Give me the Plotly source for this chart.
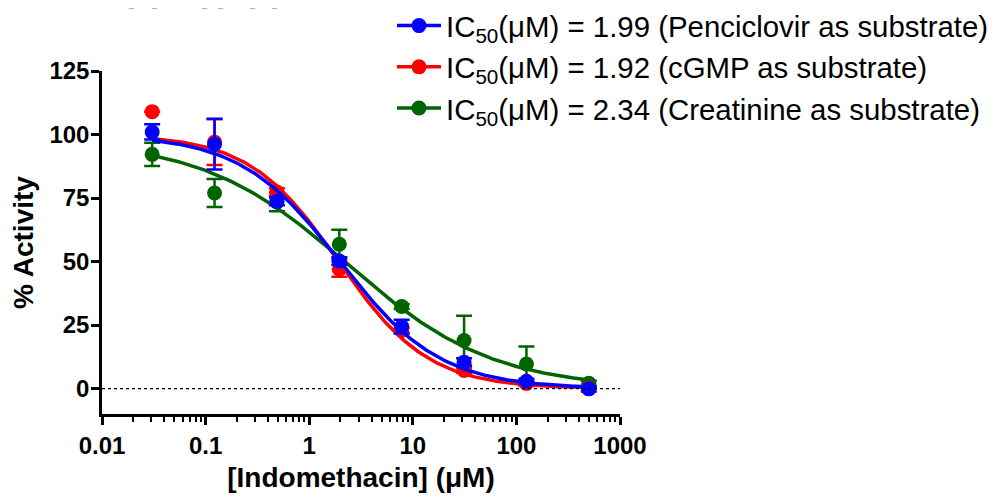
import numpy as np
import plotly.graph_objects as go

conc = [0.0305, 0.122, 0.488, 1.953, 7.8125, 31.25, 125, 500]

blue_y = [101.0, 96.2, 73.7, 50.2, 24.4, 10.4, 2.9, -0.1]
blue_err = [3.0, 10.0, 1.5, 1.5, 2.7, 1.5, 1.0, 1.0]
red_y = [109.0, 97.0, 77.4, 47.0, 22.9, 7.1, 2.0, 0.2]
red_err = [0.0, 9.0, 1.5, 3.0, 1.0, 1.0, 1.0, 0.5]
green_y = [92.2, 77.0, 73.5, 56.8, 32.3, 18.9, 9.7, 2.1]
green_err = [4.6, 5.5, 3.7, 5.7, 1.0, 9.8, 6.9, 1.0]

# fitted 4PL parameters: top, bottom, IC50, hill slope
blue_fit = [100.0, 0.0, 1.99, 0.9]
red_fit = [100.0, 0.0, 1.92, 1.0]
green_fit = [98.0, 0.0, 2.34, 0.62]

labels = ["IC<sub>50</sub>(\u03bcM) = 1.99 (Penciclovir as substrate)",
          "IC<sub>50</sub>(\u03bcM) = 1.92 (cGMP as substrate)",
          "IC<sub>50</sub>(\u03bcM) = 2.34 (Creatinine as substrate)"]
colors = ["#0000ff", "#ff0000", "#006400"]

# remnant marks of clipped text at the top-left (page pixel x positions)
dash_px = [127, 150, 200, 216, 248, 270]

xfit = np.logspace(np.log10(conc[0]), np.log10(conc[-1]), 200)

def fourpl(x, p):
    top, bot, ic, h = p
    return bot + (top - bot) / (1 + (x / ic) ** h)

OFF = 8  # page body margin
L, R, T, B = 102 - OFF, 376 + OFF, 71 - OFF, 83 + OFF
W, H = 996, 497
pw, ph = W - L - R, H - T - B

def px_x(px):
    return (px - OFF - L) / pw

def px_y(py):
    return (H - B - (py - OFF)) / ph

fig = go.Figure()
series = [(green_y, green_err, green_fit, 2), (red_y, red_err, red_fit, 1), (blue_y, blue_err, blue_fit, 0)]
for y, e, p, i in series:
    c = colors[i]
    fig.add_trace(go.Scatter(x=xfit, y=fourpl(xfit, p), mode="lines",
                             line=dict(color=c, width=3.5), showlegend=False, hoverinfo="skip"))
    fig.add_trace(go.Scatter(x=conc, y=y, mode="markers",
                             marker=dict(color=c, size=15),
                             error_y=dict(type="data", array=e, color=c, thickness=2.5, width=8),
                             showlegend=False))
for i in range(3):
    fig.add_trace(go.Scatter(x=[None], y=[None], mode="lines+markers", name=labels[i],
                             line=dict(color=colors[i], width=3.5),
                             marker=dict(color=colors[i], size=15), legendrank=i + 1))

fig.add_shape(type="line", xref="x", yref="y", x0=0.01, x1=1000, y0=0, y1=0,
              line=dict(color="black", width=1.2, dash="dot"))

for px in dash_px:
    fig.add_annotation(x=px_x(px), y=px_y(1), xref="paper", yref="paper",
                       text="\u2013", showarrow=False, font=dict(size=9, color="#8a8a8a"))

font_fam = "Arial, Liberation Sans, sans-serif"
fig.update_layout(
    width=W, height=H,
    margin=dict(l=L, r=R, t=T, b=B, autoexpand=False),
    plot_bgcolor="white", paper_bgcolor="white",
    font=dict(family=font_fam, color="black"),
    legend=dict(x=px_x(392), y=px_y(0), xanchor="left", yanchor="top",
                font=dict(size=29.4, family=font_fam), bgcolor="rgba(0,0,0,0)",
                itemwidth=44, tracegroupgap=0),
    xaxis=dict(type="log", range=[-2, 3], showgrid=False, zeroline=False,
               showline=True, linecolor="black", linewidth=2.5,
               ticks="outside", ticklen=8, tickwidth=2.5, tickcolor="black",
               tickvals=[0.01, 0.1, 1, 10, 100, 1000],
               ticktext=["0.01", "0.1", "1", "10", "100", "1000"],
               tickfont=dict(size=24, family=font_fam, weight="bold"),
               minor=dict(ticks="outside", ticklen=5, tickwidth=1.5, tickcolor="black", dtick="D1", showgrid=False),
               title=dict(text="<b>[Indomethacin] (\u03bcM)</b>", font=dict(size=28), standoff=10)),
    yaxis=dict(range=[-10, 125], showgrid=False, zeroline=False,
               showline=True, linecolor="black", linewidth=2.5,
               ticks="outside", ticklen=8, tickwidth=2.5, tickcolor="black",
               tickvals=[0, 25, 50, 75, 100, 125],
               tickfont=dict(size=24, family=font_fam, weight="bold"),
               ticklabelstandoff=-3,
               title=dict(text="<b>% Activity</b>", font=dict(size=28), standoff=13)),
)

fig.write_html("out.html")
